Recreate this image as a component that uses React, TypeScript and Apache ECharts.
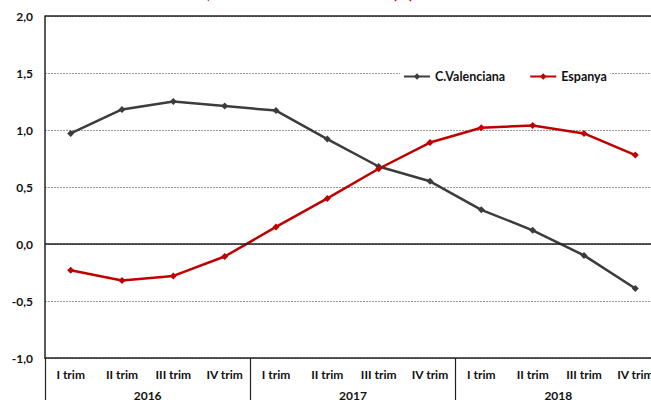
import React, { useEffect, useRef } from "react";
import * as echarts from "echarts";

const quarters = ["I trim", "II trim", "III trim", "IV trim", "I trim", "II trim", "III trim", "IV trim", "I trim", "II trim", "III trim", "IV trim"];
const years = ["2016", "2017", "2018"];
const cValenciana = [0.97, 1.18, 1.25, 1.21, 1.17, 0.92, 0.68, 0.55, 0.3, 0.12, -0.1, -0.39];
const espanya = [-0.23, -0.32, -0.28, -0.11, 0.15, 0.4, 0.66, 0.89, 1.02, 1.04, 0.97, 0.78];
const titleText = "Població, taxa de variació interanual (%)";

const FONT = "Lato, 'Open Sans', sans-serif";

export default function App() {
  const ref = useRef<HTMLDivElement>(null);
  useEffect(() => {
    if (!ref.current) return;
    const chart = echarts.init(ref.current, null, { renderer: "svg" });
    chart.setOption({
      animation: false,
      backgroundColor: "#fff",
      textStyle: { fontFamily: FONT },
      graphic: [
        {
          type: "text",
          left: 150,
          top: -15,
          style: { text: titleText, fill: "#e00000", font: "bold 15px " + FONT },
        },
      ],
      legend: {
        left: 400,
        top: 68,
        backgroundColor: "#fff",
        padding: [2, 3],
        itemGap: 24,
        itemWidth: 26,
        itemHeight: 8,
        textStyle: { fontFamily: FONT, fontWeight: "bold", fontSize: 12.5, color: "#111" },
        data: ["C.Valenciana", "Espanya"],
      },
      grid: {
        left: 45,
        top: 16,
        width: 616,
        height: 342,
        outerBoundsMode: "none",
        containLabel: false,
      },
      xAxis: [
        {
          type: "category",
          data: quarters,
          position: "bottom",
          axisLine: { show: true, onZero: false, lineStyle: { color: "#222", width: 1.5 } },
          axisTick: { show: false },
          axisLabel: { interval: 0, fontFamily: FONT, fontWeight: "bold", fontSize: 12, color: "#111", margin: 10 },
        },
        {
          type: "category",
          data: years,
          position: "bottom",
          axisLine: { show: false, onZero: false },
          axisTick: { show: true, length: 44, lineStyle: { color: "#222", width: 1.2 } },
          axisLabel: { interval: 0, fontFamily: FONT, fontWeight: "bold", fontSize: 12, color: "#111", margin: 31 },
          splitLine: { show: false },
        },
      ],
      yAxis: {
        type: "value",
        min: -1,
        max: 2,
        interval: 0.5,
        position: "left",
        axisLine: { show: true, onZero: false, lineStyle: { color: "#222", width: 1.5 } },
        axisTick: { show: false },
        axisLabel: {
          fontFamily: FONT,
          fontWeight: "bold",
          fontSize: 12,
          color: "#111",
          margin: 12,
          formatter: (v: number) => v.toFixed(1).replace(".", ","),
        },
        splitLine: { show: true, lineStyle: { color: "#999", type: [2, 1], width: 1 } },
      },
      series: [
        {
          name: "C.Valenciana",
          type: "line",
          data: cValenciana,
          symbol: "diamond",
          symbolSize: 7,
          lineStyle: { color: "#3c3c3c", width: 2.5 },
          itemStyle: { color: "#3c3c3c" },
          markLine: {
            silent: true,
            symbol: "none",
            label: { show: false },
            lineStyle: { color: "#222", type: "solid", width: 1.5 },
            data: [{ yAxis: 0 }, { yAxis: 2 }],
          },
        },
        {
          name: "Espanya",
          type: "line",
          data: espanya,
          symbol: "diamond",
          symbolSize: 7,
          lineStyle: { color: "#c00000", width: 2.5 },
          itemStyle: { color: "#c00000" },
        },
      ],
    });
    return () => chart.dispose();
  }, []);
  return <div ref={ref} style={{ width: 651, height: 400, position: "absolute", left: 0, top: 0 }} />;
}
